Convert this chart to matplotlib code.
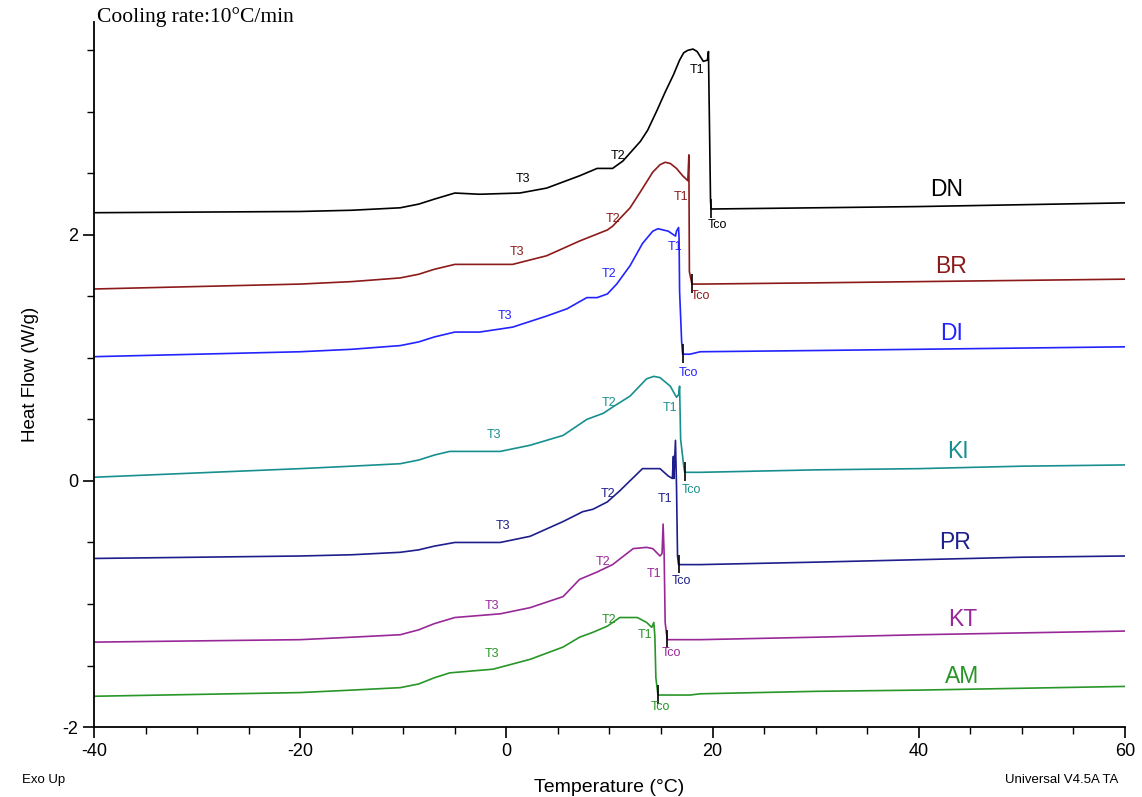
import numpy as np
import matplotlib.pyplot as plt

plt.rcParams['font.family'] = ['Liberation Sans', 'DejaVu Sans']
plt.rcParams['axes.unicode_minus'] = False

# DSC cooling curves, temperature (°C) vs heat flow (W/g)
dn_t = [-40, -20, -15, -10.3, -8.5, -7.0, -5.0, -2.6, 1.3, 3.9, 7.1, 8.8, 10.3, 11.3, 13.0, 13.7,
        14.6, 15.4, 16.2, 16.8, 17.2, 17.6, 18.1, 18.5, 19.1, 19.5, 19.6, 19.65, 19.8, 19.85,
        30, 40, 50, 60]
dn_hf = [2.18, 2.19, 2.20, 2.22, 2.25, 2.29, 2.34, 2.33, 2.34, 2.38, 2.48, 2.54, 2.54, 2.60, 2.76, 2.85,
         3.01, 3.16, 3.30, 3.42, 3.48, 3.50, 3.51, 3.49, 3.41, 3.42, 3.49, 3.18, 2.28, 2.21,
         2.22, 2.23, 2.245, 2.26]

br_t = [-40, -20, -15, -10.3, -8.5, -7.0, -5.0, 0.6, 3.9, 7.1, 9.8, 10.3, 12.0, 13.0, 14.2, 14.9,
        15.4, 15.9, 16.5, 17.1, 17.6, 17.7, 17.75, 18.0, 18.8, 30, 40, 50, 60]
br_hf = [1.56, 1.60, 1.62, 1.65, 1.68, 1.72, 1.76, 1.76, 1.83, 1.95, 2.04, 2.07, 2.22, 2.35, 2.51, 2.57,
         2.59, 2.58, 2.54, 2.48, 2.44, 2.65, 1.70, 1.60, 1.60, 1.61, 1.62, 1.63, 1.64]

di_t = [-40, -20, -15, -10.3, -8.5, -7.0, -5.0, -2.6, 0.6, 3.9, 5.9, 7.8, 8.8, 9.8, 10.7, 12.0,
        13.2, 14.2, 14.7, 15.2, 15.7, 16.4, 16.5, 16.7, 16.75, 16.8, 17.0, 17.1, 17.8, 18.8,
        30, 40, 50, 60]
di_hf = [1.01, 1.05, 1.07, 1.10, 1.13, 1.17, 1.21, 1.21, 1.25, 1.34, 1.40, 1.49, 1.49, 1.52, 1.60, 1.75,
         1.93, 2.03, 2.05, 2.04, 2.03, 1.99, 2.03, 2.06, 1.97, 1.54, 1.13, 1.03, 1.03, 1.05,
         1.06, 1.07, 1.08, 1.09]

ki_t = [-40, -20, -15, -10.3, -8.5, -7.0, -5.5, -0.6, 2.3, 5.5, 7.8, 9.4, 10.3, 12.0, 13.6, 14.3,
        14.9, 15.9, 16.5, 16.7, 16.8, 16.9, 17.2, 17.3, 18.8, 30, 40, 50, 60]
ki_hf = [0.03, 0.10, 0.12, 0.14, 0.17, 0.21, 0.24, 0.24, 0.29, 0.37, 0.50, 0.55, 0.60, 0.69, 0.83, 0.85,
         0.84, 0.77, 0.68, 0.70, 0.77, 0.34, 0.12, 0.07, 0.07, 0.09, 0.10, 0.12, 0.13]

pr_t = [-40, -20, -15, -10.3, -8.5, -7.0, -5.0, -0.6, 2.3, 5.5, 7.4, 8.4, 9.8, 11.0, 13.2, 14.9,
        15.7, 16.1, 16.2, 16.25, 16.4, 16.5, 16.6, 16.7, 18.8, 30, 40, 50, 60]
pr_hf = [-0.63, -0.61, -0.60, -0.58, -0.56, -0.53, -0.50, -0.50, -0.45, -0.33, -0.25, -0.23, -0.17,
         -0.08, 0.10, 0.10, 0.04, 0.02, 0.20, 0.02, 0.33, -0.04, -0.61, -0.68, -0.68, -0.66, -0.64,
         -0.62, -0.61]

kt_t = [-40, -20, -15, -10.3, -8.5, -7.0, -5.0, -0.6, 2.3, 5.5, 7.1, 8.8, 10.3, 12.3, 13.6, 14.2,
        14.9, 15.1, 15.2, 15.3, 15.4, 15.6, 18.8, 30, 40, 50, 60]
kt_hf = [-1.31, -1.29, -1.27, -1.25, -1.21, -1.16, -1.11, -1.08, -1.03, -0.94, -0.80, -0.74, -0.68,
         -0.55, -0.54, -0.55, -0.61, -0.59, -0.35, -0.59, -1.15, -1.29, -1.29, -1.27, -1.25, -1.235,
         -1.22]

am_t = [-40, -20, -15, -10.3, -8.5, -7.0, -5.5, -1.3, 2.3, 5.5, 7.1, 8.4, 9.8, 11.0, 12.7, 13.6,
        14.1, 14.3, 14.4, 14.5, 14.7, 17.8, 18.8, 30, 40, 50, 60]
am_hf = [-1.75, -1.72, -1.70, -1.68, -1.65, -1.60, -1.56, -1.53, -1.45, -1.35, -1.27, -1.23, -1.18,
         -1.11, -1.11, -1.15, -1.19, -1.15, -1.26, -1.60, -1.74, -1.74, -1.73, -1.71, -1.70, -1.685,
         -1.67]

samples = ['DN', 'BR', 'DI', 'KI', 'PR', 'KT', 'AM']
colors = ['#000000', '#8c1a1a', '#2323ff', '#178f8f', '#1e1e8c', '#982898', '#289628']

# crystallisation onset (Tco) and baseline level there
tco_t = [19.8, 18.0, 17.1, 17.3, 16.7, 15.6, 14.7]
tco_hf = [2.21, 1.60, 1.03, 0.07, -0.68, -1.29, -1.74]

# T1 / T2 / T3 / Tco label anchors and sample-name anchors
t1_pos = [(18.5, 3.34), (16.9, 2.31), (16.4, 1.90), (15.9, 0.59), (15.4, -0.15), (14.3, -0.76), (13.4, -1.25)]
t2_pos = [(10.8, 2.64), (10.3, 2.13), (10.0, 1.68), (10.0, 0.63), (9.9, -0.11), (9.4, -0.66), (10.0, -1.13)]
t3_pos = [(1.6, 2.45), (1.0, 1.86), (-0.1, 1.34), (-1.2, 0.37), (-0.3, -0.37), (-1.4, -1.02), (-1.4, -1.41)]
tco_pos = [(20.5, 2.08), (18.8, 1.50), (17.7, 0.88), (17.9, -0.07), (17.0, -0.81), (16.0, -1.40), (14.9, -1.84)]
name_pos = [(42.7, 2.37), (43.1, 1.74), (43.2, 1.20), (43.8, 0.24), (43.5, -0.50), (44.3, -1.13), (44.2, -1.59)]

curves = [(dn_t, dn_hf), (br_t, br_hf), (di_t, di_hf), (ki_t, ki_hf),
          (pr_t, pr_hf), (kt_t, kt_hf), (am_t, am_hf)]

fig = plt.figure(figsize=(11.42, 7.97), dpi=100)
ax = fig.add_axes([0.0823, 0.0878, 0.9028, 0.8846])

for i, (t, hf) in enumerate(curves):
    c = colors[i]
    ax.plot(t, hf, color=c, lw=1.2)
    ax.vlines(tco_t[i], tco_hf[i] - 0.07, tco_hf[i] + 0.08, color='black', lw=1.2)
    for lab, pos in zip(['T1', 'T2', 'T3', 'Tco'], [t1_pos[i], t2_pos[i], t3_pos[i], tco_pos[i]]):
        ax.text(pos[0], pos[1], lab, color=c, fontsize=9, ha='center', va='center')
    ax.text(name_pos[i][0], name_pos[i][1], samples[i], color=c, fontsize=16.5,
            ha='center', va='center')

ax.set_xlim(-40, 60)
ax.set_ylim(-2, 3.73)
ax.set_xticks([-40, -20, 0, 20, 40, 60])
ax.set_xticks(np.arange(-40, 61, 5), minor=True)
ax.set_yticks([-2, 0, 2])
ax.set_yticks(np.arange(-2, 3.6, 0.5), minor=True)
ax.tick_params(which='major', length=8, width=1.2, labelsize=13, direction='out')
ax.tick_params(which='minor', length=5, width=1.0, direction='out')
ax.spines['top'].set_visible(False)
ax.spines['right'].set_visible(False)
for s in ['left', 'bottom']:
    ax.spines[s].set_linewidth(1.3)

ax.set_xlabel('Temperature (°C)', fontsize=14, labelpad=14)
ax.set_ylabel('Heat Flow (W/g)', fontsize=13.5, labelpad=17)

fig.text(97 / 1142, 1 - 17 / 797, 'Cooling rate:10°C/min', family='Liberation Serif',
         fontsize=15.5, ha='left', va='center')
fig.text(22 / 1142, 1 - 780 / 797, 'Exo Up', fontsize=9.5, ha='left', va='center')
fig.text(1005 / 1142, 1 - 780 / 797, 'Universal V4.5A TA', fontsize=9.5,
         ha='left', va='center')

fig.savefig('out.png', dpi=100)
